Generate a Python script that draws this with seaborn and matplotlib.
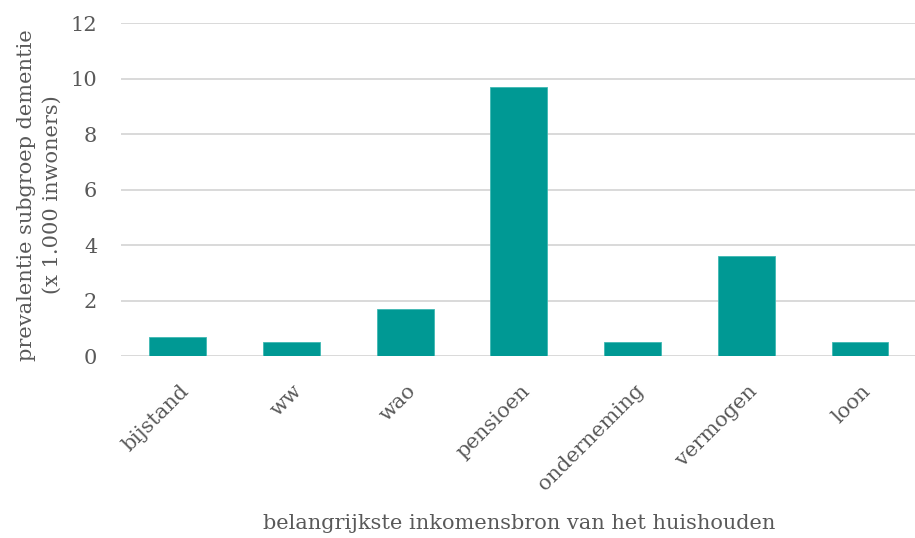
import matplotlib
matplotlib.use("Agg")
import matplotlib.pyplot as plt
import matplotlib.transforms as mtransforms
import seaborn as sns
import pandas as pd

categories = ["bijstand", "ww", "wao", "pensioen", "onderneming", "vermogen", "loon"]
values = [0.7, 0.5, 1.7, 9.7, 0.5, 3.6, 0.5]
yticks = [0, 2, 4, 6, 8, 10, 12]

sns.set_theme(style="white")
plt.rcParams["font.family"] = ["DejaVu Serif"]

df = pd.DataFrame({"bron": categories, "waarde": values})

fig = plt.figure(figsize=(9.15, 5.38), dpi=100)
ax = fig.add_axes([0.132, 0.338, 0.870, 0.619])

sns.barplot(data=df, x="bron", y="waarde", color="#009994", width=0.5,
            saturation=1, ax=ax, edgecolor="#3fb8b3", linewidth=0.6, zorder=3)

ax.set_ylim(0, 12)
ax.set_yticks(yticks)
ax.set_yticklabels([str(t) for t in yticks])
ax.yaxis.grid(True, color="#d9d9d9", linewidth=1.4, zorder=0)
ax.set_axisbelow(True)
for s in ax.spines.values():
    s.set_visible(False)

grey = "#595959"
ax.tick_params(axis="y", length=0, labelsize=15, labelcolor=grey, pad=17)
ax.tick_params(axis="x", length=0, labelsize=15, labelcolor=grey, pad=23)
offset = mtransforms.ScaledTranslation(8 / 100, 0, fig.dpi_scale_trans)
for lbl in ax.get_xticklabels():
    lbl.set_rotation(45)
    lbl.set_ha("right")
    lbl.set_va("center")
    lbl.set_rotation_mode("anchor")
    lbl.set_transform(lbl.get_transform() + offset)

ax.set_xlabel("belangrijkste inkomensbron van het huishouden", fontsize=15, color=grey, labelpad=14)
ax.set_ylabel("prevalentie subgroep dementie\n(x 1.000 inwoners)", fontsize=15, color=grey,
              linespacing=1.45)
ax.yaxis.set_label_coords(-0.074, 0.485)

fig.savefig("out.png", dpi=100)
